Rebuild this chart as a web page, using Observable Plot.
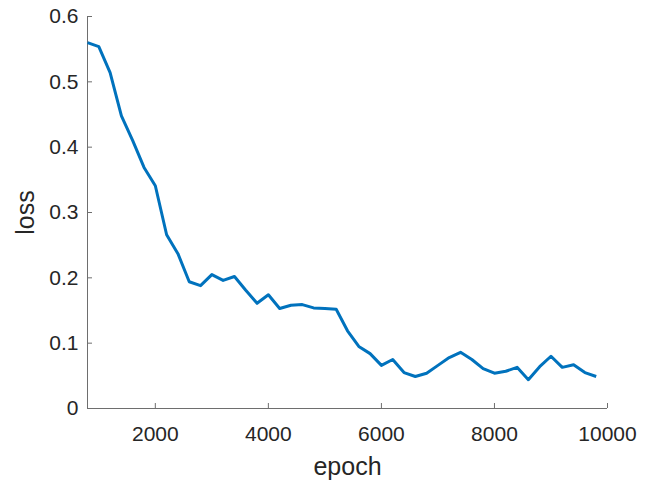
<!DOCTYPE html>
<html>
<head>
<meta charset="utf-8">
<script src="https://cdn.jsdelivr.net/npm/d3@7"></script>
<script src="https://cdn.jsdelivr.net/npm/@observablehq/plot@0.6"></script>
<style>
  html, body { margin: 0; padding: 0; background: #fff; }
  #chart { width: 654px; height: 480px; }
</style>
</head>
<body>
<div id="chart"></div>
<script>
const epochs = [800, 1000, 1200, 1400, 1600, 1800, 2000, 2200, 2400, 2600, 2800, 3000, 3200, 3400, 3600, 3800, 4000, 4200, 4400, 4600, 4800, 5000, 5200, 5400, 5600, 5800, 6000, 6200, 6400, 6600, 6800, 7000, 7200, 7400, 7600, 7800, 8000, 8200, 8400, 8600, 8800, 9000, 9200, 9400, 9600, 9800];
const loss = [0.560, 0.554, 0.514, 0.448, 0.410, 0.369, 0.341, 0.266, 0.237, 0.194, 0.188, 0.205, 0.196, 0.202, 0.181, 0.161, 0.174, 0.153, 0.158, 0.159, 0.154, 0.153, 0.152, 0.119, 0.095, 0.084, 0.066, 0.075, 0.055, 0.049, 0.054, 0.066, 0.078, 0.086, 0.075, 0.061, 0.054, 0.057, 0.063, 0.044, 0.064, 0.080, 0.063, 0.067, 0.055, 0.049];
const xTicks = [2000, 4000, 6000, 8000, 10000];
const yTicks = [0, 0.1, 0.2, 0.3, 0.4, 0.5, 0.6];
const xLabel = "epoch";
const yLabel = "loss";

const data = epochs.map((e, i) => ({epoch: e, loss: loss[i]}));
const W = 654, H = 480;
const mL = 87, mR = 47, mT = 16, mB = 72;
const innerH = H - mT - mB, innerW = W - mL - mR;
const axisColor = "#6e6e6e";
const textColor = "#262626";
const tickLen = 5;

const chart = Plot.plot({
  width: W,
  height: H,
  marginLeft: mL,
  marginRight: mR,
  marginTop: mT,
  marginBottom: mB,
  style: {fontFamily: "'Liberation Sans', Arial, sans-serif", fontSize: "21px", color: textColor, background: "#fff"},
  x: {domain: [800, 10000]},
  y: {domain: [0, 0.6]},
  marks: [
    Plot.axisX(xTicks, {tickSize: 0, tickPadding: 18, fontSize: 21, fill: textColor, label: null, tickFormat: d => String(d)}),
    Plot.axisY(yTicks, {tickSize: 0, tickPadding: 9, fontSize: 21, fill: textColor, label: null, tickFormat: d => d === 0 ? "0" : d.toFixed(1)}),
    Plot.ruleY([0], {stroke: axisColor, strokeWidth: 1}),
    Plot.ruleX([800], {stroke: axisColor, strokeWidth: 1}),
    Plot.tickX(xTicks, {x: d => d, insetTop: innerH - tickLen, stroke: axisColor, strokeWidth: 1}),
    Plot.tickY(yTicks, {y: d => d, insetRight: innerW - tickLen, stroke: axisColor, strokeWidth: 1}),
    Plot.line(data, {x: "epoch", y: "loss", stroke: "#0072BD", strokeWidth: 3, strokeLinejoin: "round", strokeLinecap: "butt"}),
    Plot.text([xLabel], {frameAnchor: "bottom", dy: 58, lineAnchor: "middle", text: d => d, fontSize: 25, fill: textColor}),
    Plot.text([yLabel], {frameAnchor: "left", dx: -62, rotate: -90, textAnchor: "middle", lineAnchor: "middle", text: d => d, fontSize: 25, fill: textColor})
  ]
});
document.getElementById("chart").appendChild(chart);
</script>
</body>
</html>
